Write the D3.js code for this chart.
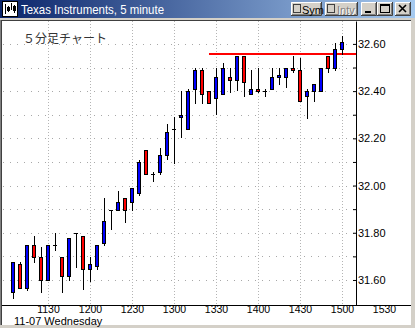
<!DOCTYPE html>
<html>
<head>
<meta charset="utf-8">
<script src="https://cdn.jsdelivr.net/npm/d3@7"></script>
<style>
html, body { margin: 0; padding: 0; background: #d4d0c8; }
svg { display: block; }
</style>
</head>
<body>
<svg id="chart" width="415" height="328"></svg>
<script>
// 5 minute bars, 11-07 (Wednesday)
const times = ["1105","1110","1115","1120","1125","1130","1135","1140","1145","1150","1155","1200",
               "1205","1210","1215","1220","1225","1230","1235","1240","1245","1250","1255","1300",
               "1305","1310","1315","1320","1325","1330","1335","1340","1345","1350","1355","1400",
               "1405","1410","1415","1420","1425","1430","1435","1440","1445","1450","1455","1500"];
const opens  = [31.548,31.667,31.565,31.747,31.696,31.599,31.747,31.696,31.616,31.799,31.785,31.645,
                31.658,31.756,31.895,31.895,31.946,31.929,31.967,32.150,32.048,32.056,32.128,32.240,
                32.289,32.240,32.408,32.489,32.400,32.370,32.387,32.459,32.446,32.548,32.387,32.408,
                32.400,32.408,32.459,32.459,32.497,32.489,32.378,32.400,32.400,32.548,32.497,32.578];
const highs  = [31.675,31.676,31.747,31.786,31.740,31.747,31.799,31.696,31.777,31.799,31.785,31.696,
                31.747,31.949,31.895,31.976,31.946,31.989,32.108,32.150,32.057,32.158,32.260,32.289,
                32.401,32.408,32.497,32.497,32.400,32.497,32.518,32.497,32.548,32.548,32.489,32.497,
                32.408,32.497,32.497,32.497,32.548,32.539,32.408,32.429,32.497,32.548,32.603,32.633];
const lows   = [31.525,31.565,31.556,31.675,31.548,31.599,31.726,31.548,31.599,31.656,31.562,31.594,
                31.648,31.747,31.817,31.895,31.847,31.895,31.959,32.048,32.018,32.048,32.114,32.097,
                32.207,32.240,32.349,32.349,32.349,32.305,32.387,32.395,32.404,32.378,32.387,32.395,
                32.378,32.408,32.429,32.417,32.480,32.357,32.288,32.357,32.400,32.480,32.489,32.557];
const closes = [31.675,31.565,31.747,31.696,31.599,31.747,31.747,31.616,31.777,31.799,31.645,31.667,
                31.747,31.849,31.895,31.929,31.895,31.989,32.099,32.048,32.048,32.128,32.227,32.240,
                32.298,32.400,32.489,32.387,32.349,32.459,32.497,32.446,32.548,32.438,32.408,32.400,
                32.400,32.459,32.467,32.497,32.489,32.357,32.400,32.429,32.497,32.497,32.578,32.607];

const xLabels = ["1130","1200","1230","1300","1330","1400","1430","1500","1530"];
const yGrid   = [31.6,31.7,31.8,31.9,32.0,32.1,32.2,32.3,32.4,32.5,32.6];
const yLabels = [31.6,31.8,32.0,32.2,32.4,32.6];

// resistance line
const lineLevel = 32.557;
const lineFrom = "1325";

const W = 415, H = 328;
const toMin = s => +s.slice(0, 2) * 60 + +s.slice(2);

const svg = d3.select("#chart");

// ---- window frame ----
const grad = svg.append("defs").append("linearGradient").attr("id", "tb").attr("x1", 0).attr("x2", 1);
grad.append("stop").attr("offset", 0).attr("stop-color", "#0a246a");
grad.append("stop").attr("offset", 1).attr("stop-color", "#a6caf0");

svg.append("rect").attr("width", W).attr("height", H).attr("fill", "#d4d0c8");
svg.append("rect").attr("width", W).attr("height", 18).attr("fill", "url(#tb)");

// icon
svg.append("rect").attr("x", 2.5).attr("y", 1.5).attr("width", 15).attr("height", 15)
    .attr("fill", "#fff").attr("stroke", "#000");
[[5, 4, 14], [8, 6, 12], [11, 3, 10], [14, 5, 13]].forEach(([bx, y1, y2]) => {
    svg.append("line").attr("x1", bx + 0.5).attr("x2", bx + 0.5).attr("y1", y1).attr("y2", y2)
        .attr("stroke", "#000").attr("stroke-width", 1);
});
svg.append("rect").attr("x", 7).attr("y", 7).attr("width", 3).attr("height", 4).attr("fill", "#000");
svg.append("rect").attr("x", 13).attr("y", 6).attr("width", 3).attr("height", 5).attr("fill", "#000");

svg.append("text")
    .attr("x", 21).attr("y", 14)
    .attr("fill", "#fff")
    .attr("font-family", "'Liberation Sans', Arial, sans-serif")
    .attr("font-size", 13)
    .attr("textLength", 143).attr("lengthAdjust", "spacingAndGlyphs")
    .text("Texas Instruments, 5 minute");

function button(x0, y0, w, h) {
    const g = svg.append("g");
    g.append("rect").attr("x", x0).attr("y", y0).attr("width", w).attr("height", h).attr("fill", "#d4d0c8");
    g.append("path").attr("d", `M${x0 + 0.5},${y0 + h - 1}V${y0 + 0.5}H${x0 + w - 1}`)
        .attr("stroke", "#fff").attr("fill", "none");
    g.append("path").attr("d", `M${x0},${y0 + h - 0.5}H${x0 + w - 0.5}V${y0}`)
        .attr("stroke", "#404040").attr("fill", "none");
    g.append("path").attr("d", `M${x0 + 1},${y0 + h - 1.5}H${x0 + w - 1.5}V${y0 + 1}`)
        .attr("stroke", "#808080").attr("fill", "none");
    return g;
}

const fontUI = "'Liberation Sans', Arial, sans-serif";

const sym = button(291, 2, 31, 14);
sym.append("rect").attr("x", 293.5).attr("y", 4.5).attr("width", 7).attr("height", 8)
    .attr("fill", "#d4d0c8").attr("stroke", "#404040");
sym.append("text").attr("x", 302).attr("y", 13.5).attr("font-family", fontUI).attr("font-size", 11)
    .attr("fill", "#000").text("Sym");

const intv = button(325, 2, 33, 14);
intv.append("rect").attr("x", 327.5).attr("y", 4.5).attr("width", 7).attr("height", 8)
    .attr("fill", "#d4d0c8").attr("stroke", "#404040");
intv.append("text").attr("x", 338).attr("y", 14.5).attr("font-family", fontUI).attr("font-size", 11)
    .attr("fill", "#fff").text("Intv");
intv.append("text").attr("x", 337).attr("y", 13.5).attr("font-family", fontUI).attr("font-size", 11)
    .attr("fill", "#808080").text("Intv");

const bMin = button(361, 2, 16, 14);
bMin.append("rect").attr("x", 365).attr("y", 11).attr("width", 6).attr("height", 2).attr("fill", "#000");

const bMax = button(377, 2, 16, 14);
bMax.append("rect").attr("x", 380.5).attr("y", 4.5).attr("width", 9).attr("height", 8)
    .attr("fill", "none").attr("stroke", "#000");
bMax.append("rect").attr("x", 380).attr("y", 4).attr("width", 10).attr("height", 2).attr("fill", "#000");

const bClose = button(395, 2, 16, 14);
bClose.append("path").attr("d", "M399,5L406,12M406,5L399,12")
    .attr("stroke", "#000").attr("stroke-width", 1.6).attr("fill", "none");

// client area
svg.append("rect").attr("x", 2).attr("y", 21).attr("width", 409).attr("height", 304).attr("fill", "#fff");
svg.append("line").attr("x1", 0).attr("x2", 411).attr("y1", 20.5).attr("y2", 20.5).attr("stroke", "#404040");
svg.append("line").attr("x1", 0.5).attr("x2", 0.5).attr("y1", 20).attr("y2", 325).attr("stroke", "#808080");
svg.append("line").attr("x1", 1.5).attr("x2", 1.5).attr("y1", 20).attr("y2", 325).attr("stroke", "#404040");

// ---- scales ----
const x = d3.scaleLinear().domain([657.86, 910]).range([3, 356]);
const y = d3.scaleLinear().domain([31.494, 32.697]).range([305, 21]);

// ---- grid ----
const grid = svg.append("g");
grid.selectAll(".hg").data(yGrid).enter().append("line")
    .attr("x1", 3).attr("x2", 356)
    .attr("y1", d => Math.round(y(d)) + 0.5).attr("y2", d => Math.round(y(d)) + 0.5)
    .attr("stroke", "#a8a8a8").attr("stroke-dasharray", "1,6");
grid.selectAll(".vg").data(xLabels.filter(s => toMin(s) < 910)).enter().append("line")
    .attr("x1", d => Math.round(x(toMin(d))) + 0.5).attr("x2", d => Math.round(x(toMin(d))) + 0.5)
    .attr("y1", 21).attr("y2", 305)
    .attr("stroke", "#b4b4b4").attr("stroke-dasharray", "1,2");

svg.append("text")
    .attr("x", 23).attr("y", 43)
    .attr("font-family", "'Noto Sans CJK JP', sans-serif")
    .attr("font-size", 12)
    .attr("fill", "#333")
    .text("５分足チャート");

// ---- resistance line ----
svg.append("line")
    .attr("x1", x(toMin(lineFrom))).attr("x2", 356)
    .attr("y1", Math.round(y(lineLevel))).attr("y2", Math.round(y(lineLevel)))
    .attr("stroke", "#ff0000").attr("stroke-width", 2);

// ---- candles ----
const bars = times.map((t, i) => ({ t: toMin(t), o: opens[i], h: highs[i], l: lows[i], c: closes[i] }));
const cg = svg.append("g");
bars.forEach(d => {
    const cx = Math.round(x(d.t));
    const yh = Math.round(y(d.h)), yl = Math.round(y(d.l));
    cg.append("line")
        .attr("x1", cx + 0.5).attr("x2", cx + 0.5)
        .attr("y1", yh).attr("y2", yl + 1)
        .attr("stroke", "#000");
    if (Math.abs(d.o - d.c) < 0.002) {
        const yo = Math.round(y(d.o)) + 0.5;
        cg.append("line").attr("x1", cx - 2).attr("x2", cx + 2).attr("y1", yo).attr("y2", yo)
            .attr("stroke", "#000");
    } else {
        const top = Math.round(y(Math.max(d.o, d.c)));
        const bot = Math.round(y(Math.min(d.o, d.c)));
        cg.append("rect")
            .attr("x", cx - 1.5).attr("width", 3)
            .attr("y", top + 0.5).attr("height", Math.max(1, bot - top))
            .attr("fill", d.c > d.o ? "#0000ff" : "#ff0000")
            .attr("stroke", "#000");
    }
});

// ---- axes ----
const yAxis = svg.append("g")
    .attr("transform", "translate(356,0)")
    .call(d3.axisRight(y).tickValues(yGrid).tickSizeInner(-3).tickSizeOuter(0).tickPadding(2)
        .tickFormat(v => yLabels.some(l => Math.abs(l - v) < 1e-6) ? d3.format(".2f")(v) : ""));
yAxis.attr("font-family", fontUI).attr("font-size", 11);
yAxis.select(".domain").attr("stroke", "#000");
yAxis.selectAll(".tick line").attr("stroke", "#000");
yAxis.selectAll(".tick text").attr("fill", "#000");

svg.append("line").attr("x1", 2).attr("x2", 411).attr("y1", 305.5).attr("y2", 305.5).attr("stroke", "#000");

const xAxis = svg.append("g")
    .attr("transform", "translate(0,305)")
    .call(d3.axisBottom(x).tickValues(xLabels.map(toMin)).tickSize(0).tickPadding(1)
        .tickFormat((v, i) => xLabels[i]));
xAxis.attr("font-family", fontUI).attr("font-size", 10.5);
xAxis.select(".domain").remove();
xAxis.selectAll(".tick text").attr("fill", "#000");

svg.append("text")
    .attr("x", 14).attr("y", 325)
    .attr("font-family", fontUI).attr("font-size", 11)
    .attr("fill", "#000")
    .text("11-07 Wednesday");
</script>
</body>
</html>
